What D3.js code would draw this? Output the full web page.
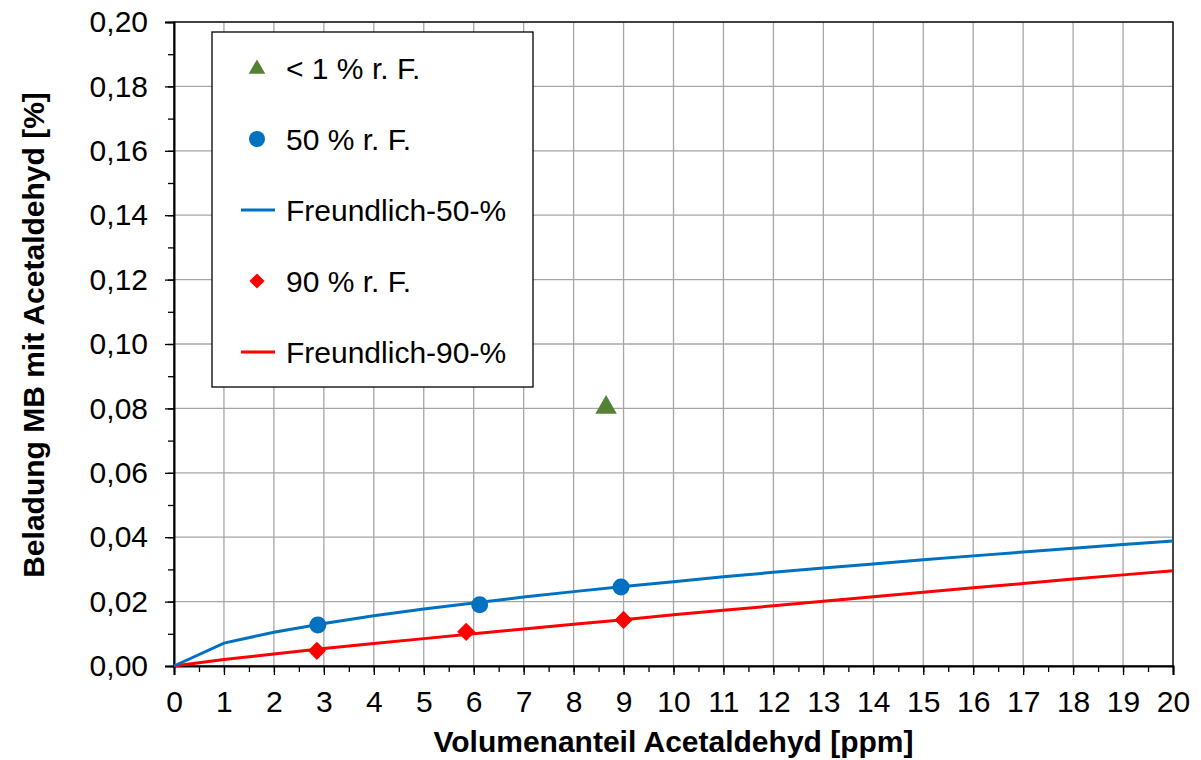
<!DOCTYPE html>
<html>
<head>
<meta charset="utf-8">
<script src="https://cdn.jsdelivr.net/npm/d3@7"></script>
<style>
  body { margin: 0; background: #fff; }
  svg text { font-family: "Liberation Sans", Arial, sans-serif; fill: #000; }
</style>
</head>
<body>
<div id="chart"></div>
<script>
// measured points
var dryX = [8.65];
var dryY = [0.0803];
var rh50X = [2.88, 6.12, 8.95];
var rh50Y = [0.0127, 0.0190, 0.0245];
var rh90X = [2.86, 5.85, 9.0];
var rh90Y = [0.0047, 0.0106, 0.0143];

// Freundlich fits, read at each ppm step
var fitX = [0, 1, 2, 3, 4, 5, 6, 7, 8, 9, 10, 11, 12, 13, 14, 15, 16, 17, 18, 19, 20];
var fit50 = [0, 0.0071, 0.0105, 0.0132, 0.0156, 0.0177, 0.0196, 0.0214, 0.0231, 0.0247, 0.0262,
             0.0277, 0.0291, 0.0304, 0.0317, 0.0330, 0.0342, 0.0354, 0.0366, 0.0377, 0.0388];
var fit90 = [0, 0.0020, 0.0037, 0.0054, 0.0070, 0.0085, 0.0100, 0.0115, 0.0130, 0.0144, 0.0159,
             0.0173, 0.0187, 0.0201, 0.0215, 0.0229, 0.0243, 0.0256, 0.0270, 0.0283, 0.0296];

var legendLabels = ["< 1 % r. F.", "50 % r. F.", "Freundlich-50-%", "90 % r. F.", "Freundlich-90-%"];

var blue = "#0070c0", red = "#ff0000", green = "#548235";

var width = 1201, height = 760;
var margin = {top: 22, right: 28, bottom: 94, left: 174};
var w = width - margin.left - margin.right,
    h = height - margin.top - margin.bottom;

var x = d3.scaleLinear().domain([0, 20]).range([0, w]);
var y = d3.scaleLinear().domain([0, 0.2]).range([h, 0]);

var svg = d3.select("#chart").append("svg")
    .attr("width", width)
    .attr("height", height);
var g = svg.append("g")
    .attr("transform", "translate(" + margin.left + "," + margin.top + ")");

// grid
g.append("g").selectAll("line")
    .data(d3.range(1, 21))
  .enter().append("line")
    .attr("x1", function(d) { return x(d); })
    .attr("x2", function(d) { return x(d); })
    .attr("y1", 0).attr("y2", h)
    .attr("stroke", "#a6a6a6").attr("stroke-width", 1.3);
g.append("g").selectAll("line")
    .data(d3.range(1, 11).map(function(i) { return i * 0.02; }))
  .enter().append("line")
    .attr("y1", function(d) { return y(d); })
    .attr("y2", function(d) { return y(d); })
    .attr("x1", 0).attr("x2", w)
    .attr("stroke", "#a6a6a6").attr("stroke-width", 1.3);

g.append("rect")
    .attr("width", w).attr("height", h)
    .attr("fill", "none").attr("stroke", "#000").attr("stroke-width", 1.3);

var comma = function(d) { return d3.format(".2f")(d).replace(".", ","); };

// minor ticks
g.append("g")
    .call(d3.axisLeft(y).tickValues(d3.range(0, 21).map(function(i) { return i * 0.01; }))
      .tickSize(6).tickFormat(""))
    .call(function(a) { a.select(".domain").remove(); })
    .selectAll("line").attr("stroke-width", 1.3);
g.append("g")
    .attr("transform", "translate(0," + h + ")")
    .call(d3.axisBottom(x).tickValues(d3.range(0, 41).map(function(i) { return i * 0.5; }))
      .tickSize(6).tickFormat(""))
    .call(function(a) { a.select(".domain").remove(); })
    .selectAll("line").attr("stroke-width", 1.3);

var yAxis = g.append("g")
    .call(d3.axisLeft(y).tickValues(d3.range(0, 11).map(function(i) { return i * 0.02; }))
      .tickSize(9).tickPadding(17).tickFormat(comma));
yAxis.select(".domain").attr("stroke-width", 2);
yAxis.selectAll("line").attr("stroke-width", 1.3);
yAxis.selectAll("text").style("font-size", "30px").attr("fill", "#000");

var xAxis = g.append("g")
    .attr("transform", "translate(0," + h + ")")
    .call(d3.axisBottom(x).ticks(20).tickSize(9).tickPadding(16).tickFormat(d3.format("d")));
xAxis.select(".domain").attr("stroke-width", 2);
xAxis.selectAll("line").attr("stroke-width", 1.3);
xAxis.selectAll("text").style("font-size", "30px").attr("fill", "#000");

// axis titles
svg.append("text")
    .attr("x", margin.left + w / 2)
    .attr("y", 752)
    .attr("text-anchor", "middle")
    .style("font-size", "30px").style("font-weight", "bold")
    .text("Volumenanteil Acetaldehyd [ppm]");
svg.append("text")
    .attr("transform", "translate(44," + 335 + ") rotate(-90)")
    .attr("text-anchor", "middle")
    .style("font-size", "30px").style("font-weight", "bold")
    .text("Beladung MB mit Acetaldehyd [%]");

// fit lines
var line = d3.line()
    .x(function(d, i) { return x(fitX[i]); })
    .y(function(d) { return y(d); });
g.append("path").datum(fit90)
    .attr("d", line).attr("fill", "none").attr("stroke", red).attr("stroke-width", 3);
g.append("path").datum(fit50)
    .attr("d", line).attr("fill", "none").attr("stroke", blue).attr("stroke-width", 3);

// markers
var tri = d3.symbol().type(d3.symbolTriangle).size(200);
var dia = d3.symbol().type(d3.symbolSquare).size(165);

g.selectAll(".dry").data(dryX).enter().append("path")
    .attr("class", "dry")
    .attr("d", tri)
    .attr("transform", function(d, i) { return "translate(" + x(d) + "," + y(dryY[i]) + ")"; })
    .attr("fill", green);
g.selectAll(".rh90").data(rh90X).enter().append("path")
    .attr("class", "rh90")
    .attr("d", dia)
    .attr("transform", function(d, i) { return "translate(" + x(d) + "," + y(rh90Y[i]) + ") rotate(45)"; })
    .attr("fill", red);
g.selectAll(".rh50").data(rh50X).enter().append("circle")
    .attr("class", "rh50")
    .attr("cx", function(d) { return x(d); })
    .attr("cy", function(d, i) { return y(rh50Y[i]); })
    .attr("r", 8.5)
    .attr("fill", blue);

// legend
var lg = svg.append("g").attr("transform", "translate(212,32)");
lg.append("rect")
    .attr("width", 321).attr("height", 355)
    .attr("fill", "#fff").attr("stroke", "#000").attr("stroke-width", 1.3);

var rows = lg.selectAll(".row").data(legendLabels).enter().append("g")
    .attr("class", "row")
    .attr("transform", function(d, i) { return "translate(0," + (36 + i * 71) + ")"; });
rows.append("text")
    .attr("x", 74).attr("y", 11)
    .style("font-size", "30px")
    .text(function(d) { return d; });

rows.each(function(d, i) {
  var r = d3.select(this);
  if (i === 0) r.append("path").attr("d", d3.symbol().type(d3.symbolTriangle).size(120))
      .attr("transform", "translate(45,1)").attr("fill", green);
  if (i === 1) r.append("circle").attr("cx", 45).attr("cy", 0).attr("r", 8).attr("fill", blue);
  if (i === 2) r.append("line").attr("x1", 29).attr("x2", 63).attr("stroke", blue).attr("stroke-width", 3);
  if (i === 3) r.append("path").attr("d", d3.symbol().type(d3.symbolSquare).size(115))
      .attr("transform", "translate(45,0) rotate(45)").attr("fill", red);
  if (i === 4) r.append("line").attr("x1", 29).attr("x2", 63).attr("stroke", red).attr("stroke-width", 3);
});
</script>
</body>
</html>
